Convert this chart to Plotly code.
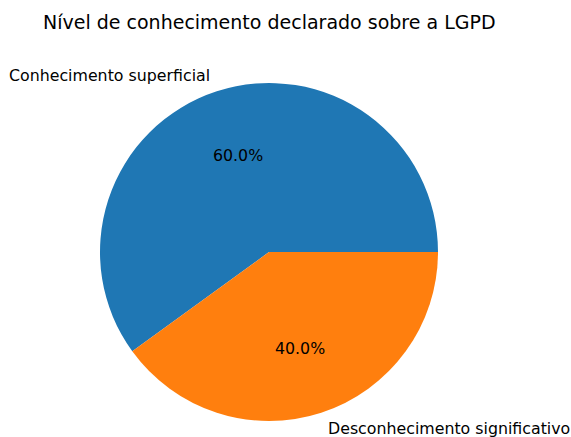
import numpy as np
import plotly.graph_objects as go

labels = ["Conhecimento superficial", "Desconhecimento significativo"]
values = [60, 40]
colors = ["#1f77b4", "#ff7f0e"]
title = "Nível de conhecimento declarado sobre a LGPD"

W, H = 571, 437
cx, cy, r = 269, 252, 169  # pie centre / radius in pixels

vals = np.array(values, dtype=float)
fr = vals / vals.sum()

fig = go.Figure(go.Pie(
    labels=labels, values=values, sort=False,
    direction="counterclockwise", rotation=90 - 360 * fr[0],
    marker=dict(colors=colors, line=dict(width=0)),
    textinfo="none", hoverinfo="label+percent",
    showlegend=False,
    domain=dict(x=[(cx - r) / W, (cx + r) / W], y=[(H - cy - r) / H, (H - cy + r) / H]),
))

font = dict(family="DejaVu Sans", size=15.8, color="black")
start = np.concatenate([[0], np.cumsum(fr)[:-1]]) * 360
mid = np.deg2rad(start + fr * 180)
for lab, f, a in zip(labels, fr, mid):
    lx = cx + 1.1 * r * np.cos(a)
    ly = cy - 1.1 * r * np.sin(a)
    fig.add_annotation(x=lx / W, y=1 - ly / H, xref="paper", yref="paper",
                       text=lab, showarrow=False, font=font,
                       xanchor="left" if np.cos(a) > 0 else "right", yanchor="middle")
    px = cx + 0.6 * r * np.cos(a)
    py = cy - 0.6 * r * np.sin(a)
    fig.add_annotation(x=px / W, y=1 - py / H, xref="paper", yref="paper",
                       text=f"{f*100:.1f}%", showarrow=False, font=font,
                       xanchor="center", yanchor="middle")

fig.add_annotation(x=cx / W, y=1 - 22 / H, xref="paper", yref="paper",
                   text=title, showarrow=False,
                   font=dict(family="DejaVu Sans", size=19, color="black"),
                   xanchor="center", yanchor="middle")

fig.update_layout(width=W, height=H, margin=dict(l=0, r=0, t=0, b=0),
                  paper_bgcolor="white", plot_bgcolor="white")
fig.write_html("out.html", config={"displayModeBar": False},
               post_script="document.body.style.margin='0';document.body.style.overflow='hidden';")
